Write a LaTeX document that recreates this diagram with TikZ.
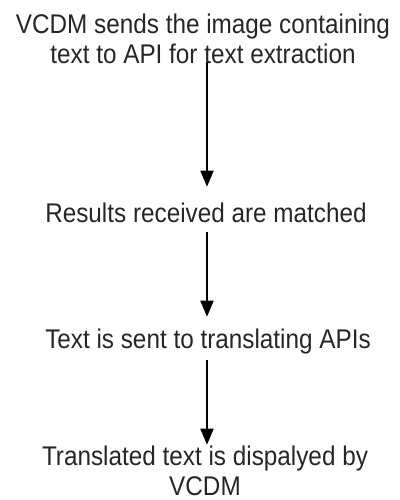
\documentclass[tikz,border=0pt]{standalone}
\usepackage{fontspec}
\usetikzlibrary{arrows.meta}
\newfontfamily\flowfont[FakeStretch=0.9]{Liberation Sans}
\definecolor{txtgray}{HTML}{262626}

\tikzset{
  stage/.style={font=\flowfont\fontsize{27}{30}\selectfont, text=txtgray,
    align=center, inner sep=0pt, anchor=base},
  flow/.style={-{Triangle[length=16pt,width=13pt]}, line width=1.6pt, black}
}

\begin{document}
\begin{tikzpicture}[x=1pt, y=1pt]
\useasboundingbox (0,0) rectangle (399,-500);

\coordinate (spine) at (207,0);

% base of a two-line stage is its last line
\node[stage] (send) at (203,-64) {VCDM sends the image containing\\text to API for text extraction};
\node[stage] (match) at (206,-222) {Results received are matched};
\node[stage] (translate) at (208,-348) {Text is sent to translating APIs};
\node[stage] (show) at (205,-495.5) {Translated text is dispalyed by\\VCDM};

\draw[flow, shorten <=-2pt, shorten >=15.5pt] (send.south -| spine) -- (match.north -| spine);
\draw[flow, shorten <=10pt, shorten >=11.5pt] (match.south -| spine) -- (translate.north -| spine);
\draw[flow, shorten <=6pt, shorten >=1pt] (translate.south -| spine) -- (show.north -| spine);

\end{tikzpicture}
\end{document}
